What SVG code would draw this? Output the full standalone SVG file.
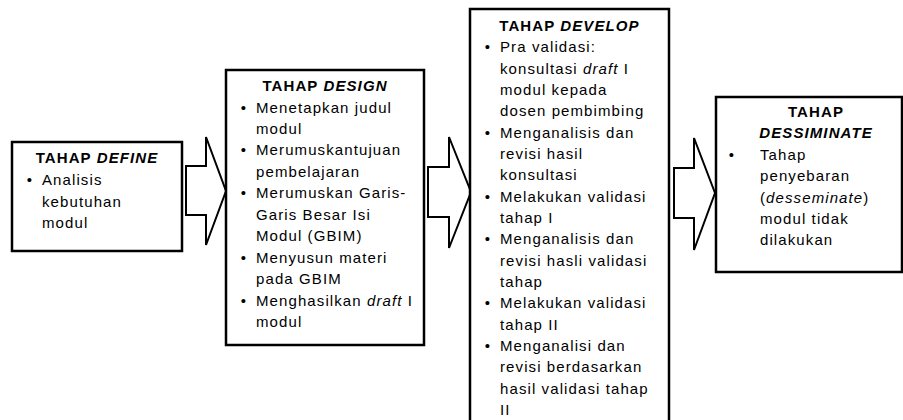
<svg xmlns="http://www.w3.org/2000/svg" width="903" height="420" viewBox="0 0 903 420">
<style>
.box{fill:#fff;stroke:#000;stroke-width:2.5}
.arr{fill:#fff;stroke:#000;stroke-width:2;stroke-linejoin:miter}
text{font-family:"Liberation Sans",Arial,sans-serif;font-size:15px;fill:#000;letter-spacing:1.1px}
.t{font-weight:bold;text-anchor:middle}
.i{font-style:italic}
.b{text-anchor:middle}
</style>
<rect width="903" height="420" fill="#fff"/>
<g id="connectors">
<polygon class="arr" points="186,166 206,166 206,137 226,191 206,245 206,215 186,215"/>
<polygon class="arr" points="428,167 449,167 449,137 471,192 449,248 449,217 428,217"/>
<polygon class="arr" points="674,168 694,168 694,138 715,193 694,250 694,218 674,218"/>
</g>
<g id="define">
<rect class="box" x="12" y="142" width="170" height="109"/>
<text class="t" x="97" y="163">TAHAP <tspan class="i">DEFINE</tspan></text>
<text class="b" x="30" y="185">•</text>
<text x="42" y="185">Analisis</text>
<text x="42" y="206.5">kebutuhan</text>
<text x="42" y="228">modul</text>
</g>
<g id="design">
<rect class="box" x="226" y="70" width="198" height="275"/>
<text class="t" x="325" y="91">TAHAP <tspan class="i">DESIGN</tspan></text>
<text class="b" x="244" y="112.5">•</text>
<text x="256" y="112.5">Menetapkan judul</text>
<text x="256" y="134">modul</text>
<text class="b" x="244" y="155.4">•</text>
<text x="256" y="155.4">Merumuskantujuan</text>
<text x="256" y="176.9">pembelajaran</text>
<text class="b" x="244" y="198.3">•</text>
<text x="256" y="198.3">Merumuskan Garis-</text>
<text x="256" y="219.8">Garis Besar Isi</text>
<text x="256" y="241.2">Modul (GBIM)</text>
<text class="b" x="244" y="262.6">•</text>
<text x="256" y="262.6">Menyusun materi</text>
<text x="256" y="284">pada GBIM</text>
<text class="b" x="244" y="305.5">•</text>
<text x="256" y="305.5">Menghasilkan <tspan class="i">draft</tspan> I</text>
<text x="256" y="327">modul</text>
</g>
<g id="develop">
<rect class="box" x="470" y="9" width="199" height="425"/>
<text class="t" x="569.5" y="31">TAHAP <tspan class="i">DEVELOP</tspan></text>
<text class="b" x="488" y="52.3">•</text>
<text x="500" y="52.3">Pra validasi:</text>
<text x="500" y="73.7">konsultasi <tspan class="i">draft</tspan> I</text>
<text x="500" y="95">modul kepada</text>
<text x="500" y="116.3">dosen pembimbing</text>
<text class="b" x="488" y="137.6">•</text>
<text x="500" y="137.6">Menganalisis dan</text>
<text x="500" y="159">revisi hasil</text>
<text x="500" y="180.3">konsultasi</text>
<text class="b" x="488" y="201.6">•</text>
<text x="500" y="201.6">Melakukan validasi</text>
<text x="500" y="223">tahap I</text>
<text class="b" x="488" y="244.3">•</text>
<text x="500" y="244.3">Menganalisis dan</text>
<text x="500" y="265.6">revisi hasli validasi</text>
<text x="500" y="287">tahap</text>
<text class="b" x="488" y="308.3">•</text>
<text x="500" y="308.3">Melakukan validasi</text>
<text x="500" y="329.6">tahap II</text>
<text class="b" x="488" y="351">•</text>
<text x="500" y="351">Menganalisi dan</text>
<text x="500" y="372.3">revisi berdasarkan</text>
<text x="500" y="393.6">hasil validasi tahap</text>
<text x="500" y="415">II</text>
</g>
<g id="dessiminate">
<rect class="box" x="716" y="97" width="186" height="175"/>
<text class="t" x="816" y="117">TAHAP</text>
<text class="t i" x="816" y="138.3">DESSIMINATE</text>
<text class="b" x="732" y="160">•</text>
<text x="760" y="160">Tahap</text>
<text x="760" y="181.3">penyebaran</text>
<text x="760" y="202.6">(<tspan class="i">desseminate</tspan>)</text>
<text x="760" y="224">modul tidak</text>
<text x="760" y="245.3">dilakukan</text>
</g>
</svg>
